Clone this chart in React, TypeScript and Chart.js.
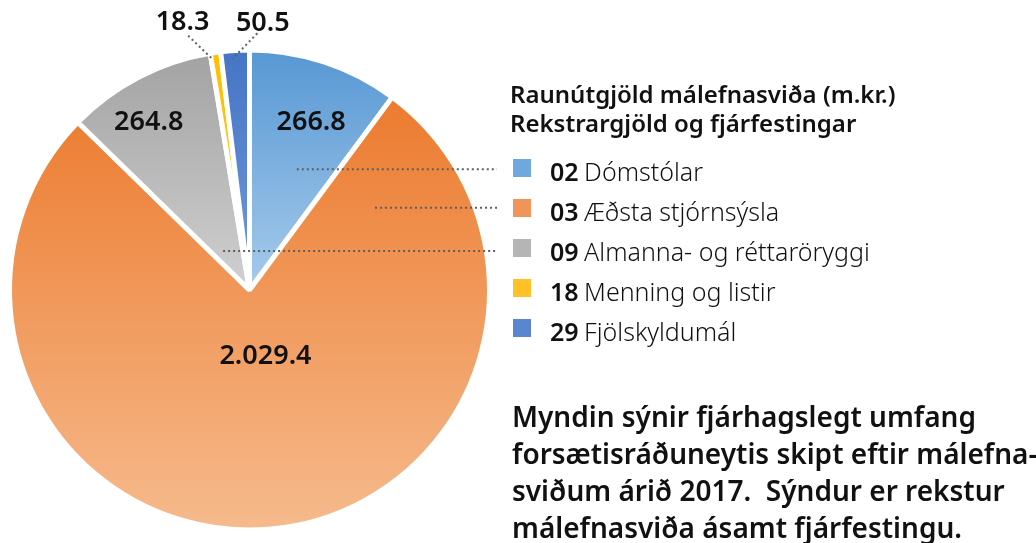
import { useEffect, useRef } from "react";
import { Chart, registerables } from "chart.js";

Chart.register(...registerables);

// ---- data ----
const categoryCodes = ["02", "03", "09", "18", "29"];
const categoryNames = [
  "Dómstólar",
  "Æðsta stjórnsýsla",
  "Almanna- og réttaröryggi",
  "Menning og listir",
  "Fjölskyldumál",
];
const values = [266.8, 2029.4, 264.8, 18.3, 50.5];
const valueLabels = ["266.8", "2.029.4", "264.8", "18.3", "50.5"];
const titleLines = ["Raunútgjöld málefnasviða (m.kr.)", "Rekstrargjöld og fjárfestingar"];
const noteLines = [
  "Myndin sýnir fjárhagslegt umfang",
  "forsætisráðuneytis skipt eftir málefna-",
  "sviðum árið 2017.  Sýndur er rekstur",
  "málefnasviða ásamt fjárfestingu.",
];

// ---- styles ----
const legendColors = ["#6FA8DC", "#F0955A", "#B5B5B5", "#FFC125", "#5A86CF"];
const sliceGradients = [
  ["#5898D4", "#A6CBEB"],
  ["#EC7B2F", "#F6BA8C"],
  ["#A3A3A3", "#D0D0D0"],
  ["#FFBF00", "#FFCB30"],
  ["#4575C6", "#7399DB"],
];
const FONT = "'Noto Sans', Lato, sans-serif";

// label placements (fraction across slice, radius fraction)
const insideLabels = [
  { i: 0, frac: 0.548, rf: 0.75 },
  { i: 1, frac: 0.467, rf: 0.28 },
  { i: 2, frac: 0.41, rf: 0.82 },
];
const outsideLabels = [
  { i: 3, anchorDelta: -0.75, anchorRf: 0.97, bendDelta: -5.4, bendRf: 1.09, textDelta: -5.85, textRf: 1.152 },
  { i: 4, anchorDelta: -0.8, anchorRf: 0.965, bendDelta: 5.2, bendRf: 1.07, textDelta: 6.3, textRf: 1.118 },
];
const legendLeaders = [
  { i: 0, frac: 0.586, rf: 0.54 },
  { i: 1, frac: 0.073, rf: 0.625 },
  { i: 2, frac: 0.318, rf: 0.196 },
];

const toRad = (d: number) => (d * Math.PI) / 180;

function polar(arc: any, deg: number, rf: number) {
  const a = toRad(deg - 90);
  return { x: arc.x + Math.cos(a) * rf * arc.outerRadius, y: arc.y + Math.sin(a) * rf * arc.outerRadius };
}
function degOf(rad: number) {
  return (rad * 180) / Math.PI + 90;
}

function sliceGradient(c: any) {
  const chart = c.chart;
  const i = c.dataIndex;
  const area = chart.chartArea;
  if (!area) return legendColors[i];
  const cx = (area.left + area.right) / 2;
  const cy = (area.top + area.bottom) / 2;
  const r = Math.min(area.width, area.height) / 2;
  const data = c.dataset.data as number[];
  const total = data.reduce((s, v) => s + v, 0);
  let before = 0;
  for (let k = 0; k < i; k++) before += data[k];
  const s = (before / total) * 360;
  const e = ((before + data[i]) / total) * 360;
  let minY = cy, maxY = cy;
  for (let k = 0; k <= 40; k++) {
    const d = s + ((e - s) * k) / 40;
    const y = cy + Math.sin(toRad(d - 90)) * r;
    minY = Math.min(minY, y);
    maxY = Math.max(maxY, y);
  }
  const g = chart.ctx.createLinearGradient(cx, minY, cx, maxY);
  g.addColorStop(0, sliceGradients[i][0]);
  g.addColorStop(1, sliceGradients[i][1]);
  return g;
}

function dotted(ctx: CanvasRenderingContext2D, pts: { x: number; y: number }[]) {
  ctx.save();
  ctx.strokeStyle = "#5F5F5F";
  ctx.lineWidth = 2;
  ctx.setLineDash([2, 3]);
  ctx.beginPath();
  ctx.moveTo(pts[0].x, pts[0].y);
  for (let k = 1; k < pts.length; k++) ctx.lineTo(pts[k].x, pts[k].y);
  ctx.stroke();
  ctx.restore();
}

const overlayPlugin = {
  id: "overlay",
  afterDraw(chart: any) {
    const ctx: CanvasRenderingContext2D = chart.ctx;
    const arcs = chart.getDatasetMeta(0).data;

    // legend geometry
    const legendX = 513;
    const legendTop = 168;
    const legendStep = 40;
    const box = 18;
    const textX = 550;

    // leader lines to legend
    legendLeaders.forEach((l) => {
      const arc = arcs[l.i];
      const s = degOf(arc.startAngle);
      const e = degOf(arc.endAngle);
      const p = polar(arc, s + (e - s) * l.frac, l.rf);
      dotted(ctx, [p, { x: legendX - 16, y: p.y }]);
    });

    // inside labels
    ctx.save();
    ctx.fillStyle = "#111";
    ctx.textAlign = "center";
    ctx.textBaseline = "middle";
    ctx.font = `600 27px ${FONT}`;
    insideLabels.forEach((l) => {
      const arc = arcs[l.i];
      const s = degOf(arc.startAngle);
      const e = degOf(arc.endAngle);
      const p = polar(arc, s + (e - s) * l.frac, l.rf);
      ctx.fillText(valueLabels[l.i], p.x, p.y + 1);
    });
    // outside labels
    outsideLabels.forEach((l) => {
      const arc = arcs[l.i];
      const mid = (degOf(arc.startAngle) + degOf(arc.endAngle)) / 2;
      const a = polar(arc, mid + l.anchorDelta, l.anchorRf);
      const b = polar(arc, mid + l.bendDelta, l.bendRf);
      dotted(ctx, [b, a]);
      const t = polar(arc, mid + l.textDelta, l.textRf);
      ctx.fillStyle = "#111";
      ctx.fillText(valueLabels[l.i], t.x, t.y + 1);
    });
    ctx.restore();

    // title
    ctx.save();
    ctx.fillStyle = "#111";
    ctx.textAlign = "left";
    ctx.textBaseline = "alphabetic";
    ctx.font = `600 24px ${FONT}`;
    titleLines.forEach((t, k) => ctx.fillText(t, 510, 103 + k * 29));

    // legend
    categoryCodes.forEach((code, k) => {
      const cy = legendTop + k * legendStep;
      ctx.fillStyle = legendColors[k];
      ctx.fillRect(legendX, cy - box / 2, box, box);
      ctx.fillStyle = "#111";
      ctx.font = `600 25px ${FONT}`;
      ctx.fillText(code, textX, cy + 13);
      const w = ctx.measureText(code + " ").width;
      ctx.font = `300 25px ${FONT}`;
      ctx.fillText(categoryNames[k], textX + w - 1, cy + 13);
    });

    // note
    ctx.font = `600 28px ${FONT}`;
    noteLines.forEach((t, k) => ctx.fillText(t, 512, 427 + k * 37));
    ctx.restore();
  },
};

export default function App() {
  const ref = useRef<HTMLCanvasElement | null>(null);
  useEffect(() => {
    if (!ref.current) return;
    const chart = new Chart(ref.current, {
      type: "pie",
      data: {
        labels: categoryNames.map((n, i) => `${categoryCodes[i]} ${n}`),
        datasets: [
          {
            data: values,
            backgroundColor: sliceGradient as any,
            borderColor: "#FFFFFF",
            borderWidth: 5,
          },
        ],
      },
      options: {
        responsive: false,
        animation: false,
        events: [],
        radius: 240,
        layout: { padding: { left: 11, right: 548, top: 52, bottom: 15 } },
        plugins: {
          legend: { display: false },
          tooltip: { enabled: false },
          title: { display: false },
        },
      } as any,
      plugins: [overlayPlugin],
    });
    return () => chart.destroy();
  }, []);
  return (
    <div style={{ position: "fixed", left: 0, top: 0, width: 1036, height: 543, background: "#fff" }}>
      <canvas ref={ref} width={1036} height={543} />
    </div>
  );
}
